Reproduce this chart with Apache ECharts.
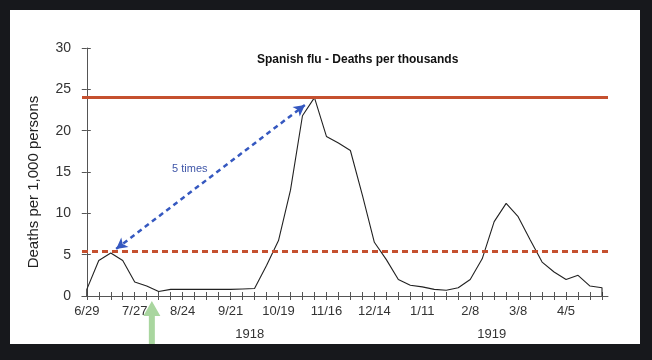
<!DOCTYPE html>
<html>
<head>
<meta charset="utf-8">
<script src="https://cdn.jsdelivr.net/npm/echarts@6/dist/echarts.min.js"></script>
<style>
html,body{margin:0;padding:0;background:#17181c;}
#c{width:652px;height:360px;}
</style>
</head>
<body>
<div id="c"></div>
<script>
// Weekly dates (1918-1919)
const weeks = ['6/29','7/6','7/13','7/20','7/27','8/3','8/10','8/17','8/24','8/31','9/7','9/14','9/21','9/28','10/5','10/12','10/19','10/26','11/2','11/9','11/16','11/23','11/30','12/7','12/14','12/21','12/28','1/4','1/11','1/18','1/25','2/1','2/8','2/15','2/22','3/1','3/8','3/15','3/22','3/29','4/5','4/12','4/19','4/26'];
// Deaths per 1,000 persons
const deaths = [0.8,4.3,5.2,4.3,1.7,1.2,0.55,0.8,0.8,0.8,0.8,0.8,0.8,0.85,0.9,3.7,6.7,12.8,21.8,24.0,19.3,18.5,17.6,12.2,6.5,4.4,2.0,1.3,1.1,0.8,0.7,1.0,2.0,4.5,9.0,11.2,9.6,6.8,4.1,2.9,2.0,2.5,1.2,1.0];
// Tick labels shown on the x axis
const xLabels = ['6/29','7/27','8/24','9/21','10/19','11/16','12/14','1/11','2/8','3/8','4/5'];
// Year labels and their position (in weeks)
const years = ['1918','1919'];
const yearWeeks = [13.6, 33.8];
// Reference lines
const peakLevel = 24;
const firstWaveLevel = 5.4;
// Double arrow annotation (week, value)
const arrowFrom = [2.45, 5.7];
const arrowTo = [18.2, 23.1];
const arrowText = '5 times';
const arrowTextAt = [8.6, 15.4];
// Green arrow position (week)
const greenArrowWeek = 5.43;

const yMin = 0, yMax = 30, yInterval = 5;
const xMin = -0.4, xMax = 43.5;

const tickWeeks = weeks.map((w, i) => i);
const labelWeeks = xLabels.map(l => weeks.indexOf(l));

const lineData = [[0, 0]].concat(deaths.map((v, i) => [i, v])).concat([[weeks.length - 1, 0]]);

const chart = echarts.init(document.getElementById('c'), null, {renderer: 'canvas'});
const FONT = 'Liberation Sans, Arial, Helvetica, sans-serif';
const axisCol = '#555';
const red = '#c5502f';

const baseX = {
  type: 'value', min: xMin, max: xMax, position: 'bottom',
  splitLine: {show: false}
};
const baseY = {
  type: 'value', min: yMin, max: yMax, interval: yInterval, position: 'left',
  splitLine: {show: false}
};

chart.setOption({
  backgroundColor: 'transparent',
  animation: false,
  title: {
    text: 'Spanish flu - Deaths per thousands',
    left: 257, top: 54, padding: 0,
    textStyle: {fontFamily: FONT, fontSize: 12, fontWeight: 'bold', color: '#111'}
  },
  grid: {left: 82, right: 44, top: 48, bottom: 64, containLabel: false},
  xAxis: [
    Object.assign({}, baseX, {
      axisLine: {show: true, lineStyle: {color: axisCol, width: 1}},
      axisTick: {show: true, length: 4, inside: false, customValues: tickWeeks, lineStyle: {color: axisCol}},
      axisLabel: {show: true, customValues: labelWeeks, margin: 9,
        formatter: v => weeks[Math.round(v)],
        fontFamily: FONT, fontSize: 13, color: '#333'}
    }),
    Object.assign({}, baseX, {
      axisLine: {show: false},
      axisTick: {show: true, length: 4, inside: true, customValues: tickWeeks, lineStyle: {color: axisCol}},
      axisLabel: {show: false}
    }),
    Object.assign({}, baseX, {
      offset: 26,
      axisLine: {show: false},
      axisTick: {show: false},
      axisLabel: {show: true, customValues: yearWeeks, margin: 6,
        formatter: v => years[yearWeeks.indexOf(v)],
        fontFamily: FONT, fontSize: 13, color: '#333'}
    })
  ],
  yAxis: [
    Object.assign({}, baseY, {
      name: 'Deaths per 1,000 persons',
      nameLocation: 'middle', nameGap: 41,
      nameTextStyle: {fontFamily: FONT, fontSize: 15, color: '#222', padding: [0, 20, 0, 0]},
      axisLine: {show: true, lineStyle: {color: axisCol, width: 1}},
      axisTick: {show: true, length: 5, inside: false, lineStyle: {color: axisCol}},
      axisLabel: {show: true, margin: 11, fontFamily: FONT, fontSize: 14, color: '#333'}
    }),
    Object.assign({}, baseY, {
      axisLine: {show: false},
      axisTick: {show: true, length: 4, inside: true, lineStyle: {color: axisCol}},
      axisLabel: {show: false}
    })
  ],
  series: [{
    type: 'line',
    xAxisIndex: 0, yAxisIndex: 0,
    data: lineData,
    showSymbol: false,
    symbol: 'none',
    lineStyle: {color: '#222', width: 1.1},
    z: 3,
    markLine: {
      silent: true,
      symbol: ['none', 'none'],
      label: {show: false},
      data: [
        {yAxis: peakLevel, lineStyle: {color: red, width: 3, type: 'solid'}},
        {yAxis: firstWaveLevel, lineStyle: {color: red, width: 3, type: [6, 4]}},
        [
          {coord: arrowFrom, symbol: 'arrow', symbolSize: [9, 11],
           lineStyle: {color: '#3558c0', width: 2.5, type: [5, 4]}},
          {coord: arrowTo, symbol: 'arrow', symbolSize: [9, 11]}
        ]
      ]
    },
    markPoint: {
      silent: true,
      symbol: 'circle', symbolSize: 0,
      data: [{coord: arrowTextAt, value: arrowText}],
      label: {show: true, position: 'inside', formatter: arrowText,
        fontFamily: FONT, fontSize: 11, color: '#3f56a8'}
    }
  }],
  graphic: [{
    type: 'rect', left: 10, top: 10, z: -100,
    shape: {width: 630, height: 334},
    style: {fill: '#ffffff'}
  }]
});

// Green arrow pointing up at a week on the x axis
const p = chart.convertToPixel({xAxisIndex: 0, yAxisIndex: 0}, [greenArrowWeek, 0]);
const tipY = p[1] + 5, headBase = tipY + 15, bottom = 344, hw = 8.5, sw = 3;
chart.setOption({
  graphic: [{
    type: 'rect', left: 10, top: 10, z: -100,
    shape: {width: 630, height: 334},
    style: {fill: '#ffffff'}
  }, {
    type: 'polygon', z: 10,
    shape: {points: [
      [p[0], tipY], [p[0] + hw, headBase], [p[0] + sw, headBase], [p[0] + sw, bottom],
      [p[0] - sw, bottom], [p[0] - sw, headBase], [p[0] - hw, headBase]
    ]},
    style: {fill: '#a9d69f'}
  }]
});
</script>
</body>
</html>
